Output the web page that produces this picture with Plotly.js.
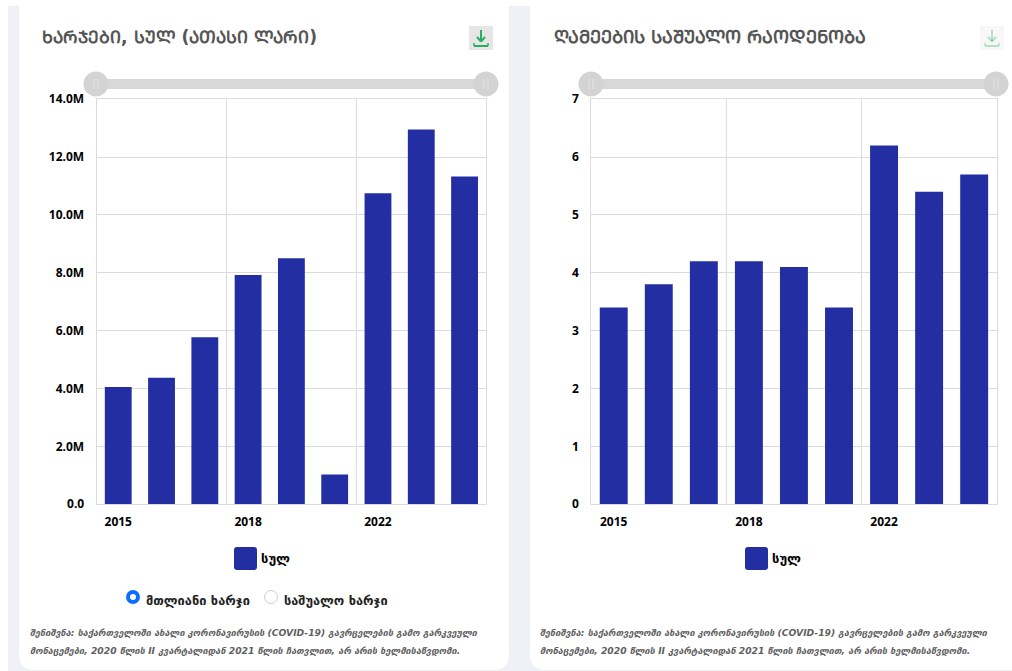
<!DOCTYPE html>
<html><head><meta charset="utf-8">
<script src="https://cdn.plot.ly/plotly-3.0.1.min.js"></script>
<style>html,body{margin:0;padding:0;background:#fff;overflow:hidden}#c{width:1012px;height:671px}</style>
</head><body><div id="c"></div>
<script>
const years = ['2015','2016','2017','2018','2019','2020','2022','2023','2024'];
const spending = [4050000,4370000,5770000,7920000,8500000,1030000,10750000,12950000,11330000];
const nights = [3.4,3.8,4.2,4.2,4.1,3.4,6.2,5.4,5.7];
const xTicks = ['2015','2018','2022'];
const spendTickVals = [0,2000000,4000000,6000000,8000000,10000000,12000000,14000000];
const spendTickText = ['0.0','2.0M','4.0M','6.0M','8.0M','10.0M','12.0M','14.0M'];
const nightTickVals = [0,1,2,3,4,5,6,7];
const seriesName = 'სულ';
const titleLeft = 'ᲮᲐᲠᲯᲔᲑᲘ, ᲡᲣᲚ (ᲐᲗᲐᲡᲘ ᲚᲐᲠᲘ)';
const titleRight = 'ᲦᲐᲛᲔᲔᲑᲘᲡ ᲡᲐᲨᲣᲐᲚᲝ ᲠᲐᲝᲓᲔᲜᲝᲑᲐ';
const radioA = 'მთლიანი ხარჯი', radioB = 'საშუალო ხარჯი';
const note1 = 'შენიშვნა: საქართველოში ახალი კორონავირუსის (COVID-19) გავრცელების გამო გარკვეული';
const note2 = 'მონაცემები, 2020 წლის II კვარტალიდან 2021 წლის ჩათვლით, არ არის ხელმისაწვდომი.';

const W=1012,H=671, BAR='#232ea3', GRID='#dcdcdc';
const FONT='"DejaVu Sans","Noto Sans",sans-serif', NUM='"Open Sans","Noto Sans",sans-serif';
const px=x=>x/W, py=y=>1-y/H;
const shapes=[], ann=[];
function rect(x0,y0,x1,y1,fill,op){shapes.push({type:'rect',xref:'paper',yref:'paper',x0:px(x0),x1:px(x1),y0:py(y1),y1:py(y0),fillcolor:fill,opacity:op==null?1:op,line:{width:0},layer:'below'});}
function rrect(x0,y0,x1,y1,r,fill,layer){const P=(x,y)=>px(x)+' '+py(y);
 const path=`M ${P(x0+r,y0)} L ${P(x1-r,y0)} Q ${P(x1,y0)} ${P(x1,y0+r)} L ${P(x1,y1-r)} Q ${P(x1,y1)} ${P(x1-r,y1)} L ${P(x0+r,y1)} Q ${P(x0,y1)} ${P(x0,y1-r)} L ${P(x0,y0+r)} Q ${P(x0,y0)} ${P(x0+r,y0)} Z`;
 shapes.push({type:'path',xref:'paper',yref:'paper',path,fillcolor:fill,line:{width:0},layer:layer||'below'});}
function circ(cx,cy,r,fill,lc,lw){shapes.push({type:'circle',xref:'paper',yref:'paper',x0:px(cx-r),x1:px(cx+r),y0:py(cy+r),y1:py(cy-r),fillcolor:fill,line:{color:lc||fill,width:lw||0}});}
function seg(x0,y0,x1,y1,c,w,op){shapes.push({type:'line',xref:'paper',yref:'paper',x0:px(x0),x1:px(x1),y0:py(y0),y1:py(y1),line:{color:c,width:w},opacity:op==null?1:op});}
function txt(x,y,t,size,color,o){ann.push(Object.assign({xref:'paper',yref:'paper',x:px(x),y:py(y),text:t,showarrow:false,xanchor:'left',yanchor:'middle',borderpad:0,font:{family:FONT,size,color}},o||{}));}

// page and cards
rect(8,6,1012,671,'#f0f1f6');
rrect(19,-20,509,670,16,'#ffffff');
rrect(530,-20,1040,670,16,'#ffffff');
rect(0,0,1012,6,'#ffffff');

function card(o){
 txt(o.titleX,36.5,'<b>'+o.title+'</b>',o.titleSize,'#555555');
 // slider
 rect(o.a+8,79,o.b-8,89,'#d8d8d8');
 [o.a,o.b].forEach(c=>{circ(c,84,12.5,'#d3d3d3');seg(c-2,79,c-2,89,'#e4e4e4',1);seg(c+2,79,c+2,89,'#e4e4e4',1);});
 // download icon
 const d=o.dl, op=o.dlOp;
 rect(d,26,d+24,50,'#e6e6e6',op);
 seg(d+12,30,d+12,41,'#27ae60',2,op);
 seg(d+8,37,d+12,41.5,'#27ae60',2,op);
 seg(d+16,37,d+12,41.5,'#27ae60',2,op);
 seg(d+5,46,d+19,46,'#27ae60',2,op);
 seg(d+5,43,d+5,46,'#27ae60',1.5,op);
 seg(d+19,43,d+19,46,'#27ae60',1.5,op);
 // legend key
 rrect(o.key,547,o.key+23,570,3,BAR,'above');
 txt(o.key+26,558,'<b>'+seriesName+'</b>',13,'#000000');
 // note
 txt(o.noteX,632,'<b><i>'+note1+'</i></b>',9.2,'#5f5f5f');
 txt(o.noteX,650,'<b><i>'+note2+'</i></b>',9.2,'#5f5f5f');
 // vertical gridlines on the band boundaries, placed through the category axis
 o.bounds.forEach(v=>shapes.push({type:'line',xref:o.xref,yref:'paper',x0:v,x1:v,y0:py(504.2),y1:py(99.2),line:{color:GRID,width:1},layer:'below'}));
}
const groupBounds=[2.5,5.5];
card({title:titleLeft,titleSize:17.2,titleX:41,a:96,b:486,dl:469,dlOp:1,key:234,noteX:29,xref:'x',bounds:groupBounds});
card({title:titleRight,titleSize:17.9,titleX:552.5,a:591,b:996,dl:980,dlOp:0.3,key:745,noteX:539,xref:'x2',bounds:groupBounds});

// radios
circ(133,597,5,'#ffffff','#0d6efd',4);
circ(271,597,6.5,'#ffffff','#cfcfcf',1);
txt(145,600,'<b>'+radioA+'</b>',12.8,'#222222');
txt(283,600,'<b>'+radioB+'</b>',12.8,'#222222');

const tf={family:NUM,size:12,color:'#000000',weight:700};
function xa(l,r){return {domain:[px(l),px(r)],type:'category',categoryorder:'array',categoryarray:years,tickmode:'array',tickvals:xTicks,ticktext:xTicks,ticks:'',showgrid:false,showline:true,mirror:true,linecolor:GRID,linewidth:1,tickfont:tf,ticklabelstandoff:6,zeroline:false,fixedrange:true};}
function ya(anchor,range,vals,text){return {domain:[py(504.2),py(99.2)],anchor,range,tickmode:'array',tickvals:vals,ticktext:text,ticks:'',showgrid:true,gridcolor:GRID,gridwidth:1,showline:true,mirror:true,linecolor:GRID,linewidth:1,tickfont:tf,ticklabelstandoff:9,zeroline:false,fixedrange:true};}

const data=[
 {type:'bar',x:years,y:spending,xaxis:'x',yaxis:'y',name:seriesName,marker:{color:BAR},width:0.62,hoverinfo:'x+y'},
 {type:'bar',x:years,y:nights,xaxis:'x2',yaxis:'y2',name:seriesName,marker:{color:BAR},width:0.62,hoverinfo:'x+y'}
];
const layout={width:W,height:H,margin:{l:0,r:0,t:0,b:0},paper_bgcolor:'#ffffff',plot_bgcolor:'rgba(0,0,0,0)',showlegend:false,
 xaxis:xa(96.6,486.2),yaxis:ya('x',[0,14000000],spendTickVals,spendTickText),
 xaxis2:Object.assign(xa(591.2,996.7),{anchor:'y2'}),yaxis2:ya('x2',[0,7],nightTickVals,nightTickVals.map(String)),
 shapes,annotations:ann,font:{family:FONT}};
Plotly.newPlot('c',data,layout,{displayModeBar:false,responsive:false});
</script></body></html>
